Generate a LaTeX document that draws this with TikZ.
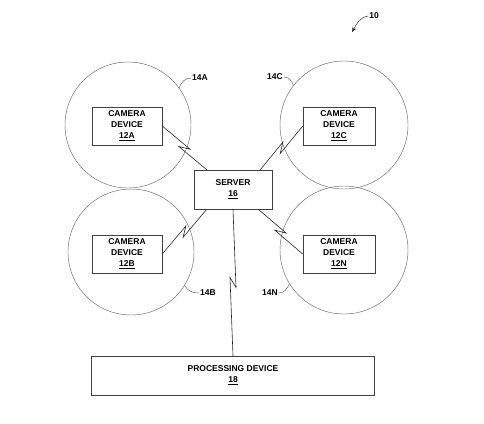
\documentclass[tikz,border=0pt]{standalone}
\usepackage{fontspec}
\setmainfont{Liberation Sans}
\usetikzlibrary{calc,arrows.meta}
\tikzset{
  devbox/.style={draw=black!75, line width=0.5pt, align=center, inner sep=0pt,
    font=\bfseries\fontsize{8.5}{11}\selectfont},
  zone/.style={draw=black!60, line width=0.45pt, circle, inner sep=0pt, minimum size=#1},
  reflabel/.style={font=\bfseries\fontsize{8.5}{10}\selectfont, inner sep=1pt},
  link/.style={draw=black!85, line width=0.6pt},
  bolt/.style={to path={
    -- ($(\tikztostart)!0.5!(\tikztotarget)!5pt!(\tikztotarget)!3pt!90:(\tikztotarget)$)
    -- ($(\tikztostart)!0.5!(\tikztotarget)!-5pt!(\tikztotarget)!3pt!-90:(\tikztotarget)$)
    -- (\tikztotarget)}},
}
\begin{document}
\begin{tikzpicture}[x=1pt,y=-1pt]
    \useasboundingbox (0,0) rectangle (484,423);
    %% coverage areas
    \node[zone=126pt] (z14a) at (128,125) {};
    \node[zone=128pt] (z14c) at (344,125) {};
    \node[zone=126pt] (z14b) at (131,252) {};
    \node[zone=128pt] (z14n) at (344,250) {};
    %% camera devices
    \node[devbox, minimum width=70pt, minimum height=38pt] (cama) at (127,126) {CAMERA\\DEVICE\\\underline{12A}};
    \node[devbox, minimum width=72pt, minimum height=38pt] (camc) at (339,126) {CAMERA\\DEVICE\\\underline{12C}};
    \node[devbox, minimum width=70pt, minimum height=38pt] (camb) at (127,254) {CAMERA\\DEVICE\\\underline{12B}};
    \node[devbox, minimum width=72pt, minimum height=38pt] (camn) at (339,254) {CAMERA\\DEVICE\\\underline{12N}};
    %% server and processing device
    \node[devbox, fill=white, minimum width=78pt, minimum height=39pt] (srv) at (233,189.5) {SERVER\\\underline{16}};
    \node[devbox, minimum width=283pt, minimum height=39pt] (proc) at (233,375.5) {PROCESSING DEVICE\\\underline{18}};
    %% wireless links
    \coordinate (sa) at ([xshift=13pt]srv.north west);
    \coordinate (sc) at ([xshift=-12pt]srv.north east);
    \coordinate (sb) at ([xshift=13pt]srv.south west);
    \coordinate (sn) at ([xshift=-14pt]srv.south east);
    \draw[link] (cama.east) to[bolt] (sa);
    \draw[link] (camc.west) to[bolt] (sc);
    \draw[link] (sb) to[bolt] (camb.east);
    \draw[link] (sn) to[bolt] (camn.west);
    \draw[link] (srv.south) to[bolt] (proc.north);
    %% reference numerals
    \node[reflabel] (l14a) at (200,78) {14A};
    \node[reflabel] (l14c) at (275,77) {14C};
    \node[reflabel] (l14b) at (208,293) {14B};
    \node[reflabel] (l14n) at (270,293) {14N};
    \draw[black!70, line width=0.4pt] (z14a.36) to[out=70,in=180] (l14a.west);
    \draw[black!70, line width=0.4pt] (l14c.east) to[out=0,in=110] (z14c.142);
    \draw[black!70, line width=0.4pt] (z14b.-32) to[out=-60,in=180] (l14b.west);
    \draw[black!70, line width=0.4pt] (l14n.east) to[out=0,in=-120] (z14n.-148);
    \node[reflabel] (l10) at (374,16) {10};
    \coordinate (p10) at (352,32);
    \draw[black!85, line width=0.5pt, -{Stealth[length=5pt,width=4pt]}] (l10.west) to[out=190,in=60] (p10);
\end{tikzpicture}
\end{document}
